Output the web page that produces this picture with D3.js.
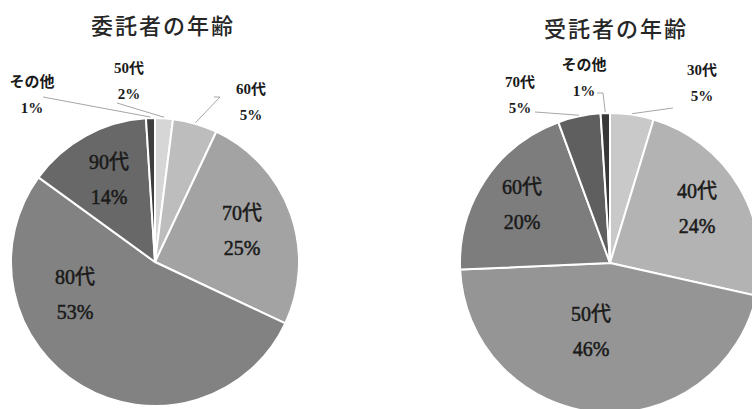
<!DOCTYPE html>
<html>
<head>
<meta charset="utf-8">
<script src="https://cdn.jsdelivr.net/npm/d3@7/dist/d3.min.js"></script>
<style>
  html, body { margin: 0; padding: 0; background: #fff; }
  svg { display: block; }
</style>
</head>
<body>
<svg id="chart" width="752" height="409"></svg>
<script>
// ---- data ----
const leftTitle = "委託者の年齢";
const leftCategories = ["50代", "60代", "70代", "80代", "90代", "その他"];
const leftValues = [2, 5, 25, 53, 14, 1];

const rightTitle = "受託者の年齢";
const rightCategories = ["30代", "40代", "50代", "60代", "70代", "その他"];
const rightValues = [4.7, 23.8, 45.8, 20.1, 4.6, 1.0];

// ---- styles / layout (not data) ----
const leftColors = ["#d6d6d6", "#bdbdbd", "#a3a3a3", "#828282", "#686868", "#3e3e3e"];
const rightColors = ["#c9c9c9", "#b3b3b3", "#959595", "#7d7d7d", "#5f5f5f", "#383838"];

// label placement per slice: inside => offset from centre; outside => label offset + leader start
const leftLayout = [
  { out: true, lx: -26, ly: -181, pts: [[-38, -159]] },
  { out: true, lx: 96, ly: -160, pts: [[59, -165], [65, -165]] },
  { out: false, lx: 87, ly: -32 },
  { out: false, lx: -80, ly: 32 },
  { out: false, lx: -46, ly: -83 },
  { out: true, lx: -123, ly: -167, pts: [[-112, -165]] }
];
const rightLayout = [
  { out: true, lx: 92, ly: -180, pts: [[63, -155]] },
  { out: false, lx: 87, ly: -55 },
  { out: false, lx: -19, ly: 68 },
  { out: false, lx: -88, ly: -59 },
  { out: true, lx: -90, ly: -168, pts: [[-75, -151]] },
  { out: true, lx: -26, ly: -185, pts: [[-13, -170], [-7, -170]] }
];

const svg = d3.select("#chart");
const FONT = "'Liberation Serif', 'Noto Sans CJK JP', serif";

function drawPie(opts) {
  const { title, categories, values, colors, layout, cx, cy, r, tx, ty } = opts;
  const total = d3.sum(values);
  const data = categories.map((c, i) => ({ cat: c, value: values[i], color: colors[i], lay: layout[i] }));

  svg.append("text")
    .attr("x", tx).attr("y", ty)
    .attr("text-anchor", "middle")
    .attr("font-family", "'Noto Sans CJK JP', sans-serif")
    .attr("font-size", 22)
    .attr("font-weight", 500)
    .attr("letter-spacing", 2)
    .attr("fill", "#262626")
    .text(title);

  const pie = d3.pie().sort(null).value(d => d.value);
  const arcs = pie(data);
  const arc = d3.arc().innerRadius(0).outerRadius(r);

  const g = svg.append("g").attr("transform", `translate(${cx},${cy})`);

  g.selectAll("path.slice")
    .data(arcs)
    .join("path")
    .attr("class", "slice")
    .attr("d", arc)
    .attr("fill", d => d.data.color)
    .attr("stroke", "#fff")
    .attr("stroke-width", 2)
    .attr("stroke-linejoin", "round");

  // leader lines
  arcs.forEach(a => {
    const lay = a.data.lay;
    if (!lay.out) return;
    const mid = (a.startAngle + a.endAngle) / 2;
    const end = [Math.sin(mid) * (r + 1), -Math.cos(mid) * (r + 1)];
    const pts = lay.pts.concat([end]);
    g.append("path")
      .attr("d", d3.line()(pts))
      .attr("fill", "none")
      .attr("stroke", "#a6a6a6")
      .attr("stroke-width", 1);
  });

  // labels
  arcs.forEach(a => {
    const lay = a.data.lay;
    const pct = Math.round(a.data.value / total * 100) + "%";
    const fs = lay.out ? 15 : 20;
    const gap = lay.out ? 26 : 35;
    const t = g.append("text")
      .attr("text-anchor", "middle")
      .attr("font-family", FONT)
      .attr("font-size", fs)
      .attr("font-weight", lay.out ? "bold" : "normal")
      .attr("fill", "#1a1a1a")
      .attr("stroke", lay.out ? "none" : "#1a1a1a")
      .attr("stroke-width", 0.5);
    t.append("tspan")
      .attr("x", lay.lx).attr("y", lay.ly - gap / 2)
      .attr("dy", "0.35em")
      .text(a.data.cat);
    t.append("tspan")
      .attr("x", lay.lx).attr("y", lay.ly + gap / 2)
      .attr("dy", "0.35em")
      .text(pct);
  });
}

drawPie({ title: leftTitle, categories: leftCategories, values: leftValues, colors: leftColors,
  layout: leftLayout, cx: 155, cy: 262, r: 144, tx: 163, ty: 34 });
drawPie({ title: rightTitle, categories: rightCategories, values: rightValues, colors: rightColors,
  layout: rightLayout, cx: 610, cy: 263, r: 150, tx: 616, ty: 37 });
</script>
</body>
</html>
